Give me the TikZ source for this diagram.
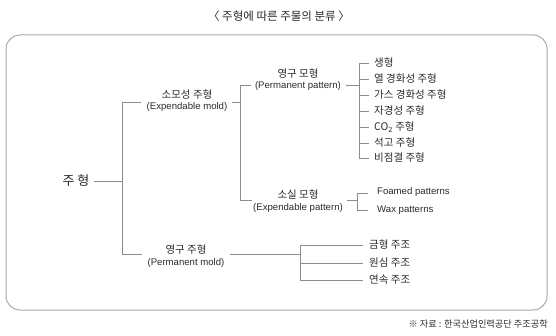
\documentclass[tikz,border=0pt]{standalone}
\usepackage{fontspec}
\setmainfont{Noto Sans CJK KR}
\newfontfamily\lat{Liberation Sans}
\definecolor{lineg}{HTML}{8C8C8C}
\definecolor{txt}{HTML}{2A2A2A}
\definecolor{framec}{HTML}{A8A8A8}
\begin{document}
\begin{tikzpicture}[x=1pt,y=-1pt,
  ln/.style={draw=lineg, line width=0.8pt},
  kr/.style={font=\fontsize{10.5}{12}\selectfont, text=txt, inner sep=0pt},
  en/.style={font=\lat\fontsize{9.6}{11}\selectfont, text=txt, inner sep=0pt},
  leaf/.style={kr, anchor=west},
  leafen/.style={en, anchor=west},
]
\useasboundingbox (0,0) rectangle (556,336);
\draw[framec, line width=1pt, rounded corners=14pt] (6,35) rectangle (547,310);

% title and source
\node[kr, font=\fontsize{11.5}{13}\selectfont] (title) at (279,16) {〈 주형에 따른 주물의 분류 〉};
\node[kr, anchor=east, font=\fontsize{9.2}{11}\selectfont] (src) at (548,324) {※ 자료 : 한국산업인력공단 주조공학};

% root
\node[kr, font=\fontsize{13}{15}\selectfont] (root) at (76,181) {주 형};
\coordinate (r0) at (94,181);
\coordinate (r1) at (122,181);
\coordinate (rt) at (122,102);
\coordinate (rb) at (122,254);
\draw[ln] (r0) -- (r1);
\draw[ln] (rt) -- (rb);

% expendable mold
\node[kr] (em) at (187,95) {소모성 주형};
\node[en] (eme) at (187,107) {(Expendable mold)};
\coordinate (em0) at (141,102);
\coordinate (em1) at (232,102);
\coordinate (em2) at (240,102);
\draw[ln] (rt) -- (em0);
\draw[ln] (em1) -- (em2);
\coordinate (vt) at (240,85);
\coordinate (vb) at (240,200);
\draw[ln] (vt) -- (vb);

% permanent pattern
\node[kr] (pp) at (298,74) {영구 모형};
\node[en] (ppe) at (298,86) {(Permanent pattern)};
\coordinate (pp0) at (251,85);
\coordinate (pp1) at (346,85);
\coordinate (pp2) at (359,85);
\draw[ln] (vt) -- (pp0);
\draw[ln] (pp1) -- (pp2);
\coordinate (lt) at (359,63);
\coordinate (lb) at (359,158);
\draw[ln] (lt) -- (lb);
\foreach \y/\t [count=\i] in {63/생형, 79/열 경화성 주형, 95/가스 경화성 주형, 111/자경성 주형, 127/CO\textsubscript{2} 주형, 143/석고 주형, 158/비점결 주형}{
  \node[leaf] (l\i) at (374,\y) {\t};
  \coordinate (la\i) at (359,\y);
  \coordinate (lc\i) at (369,\y);
  \draw[ln] (la\i) -- (lc\i);
}

% expendable pattern
\node[kr] (ep) at (298,195) {소실 모형};
\node[en] (epe) at (298,208) {(Expendable pattern)};
\coordinate (ep0) at (252,200);
\coordinate (ep1) at (347,200);
\coordinate (ep2) at (357,200);
\draw[ln] (vb) -- (ep0);
\draw[ln] (ep1) -- (ep2);
\coordinate (ft) at (357,193);
\coordinate (fb) at (357,210);
\draw[ln] (ft) -- (fb);
\node[leafen] (fp) at (377,192) {Foamed patterns};
\node[leafen] (wp) at (377,210) {Wax patterns};
\coordinate (fc) at (368,193);
\coordinate (wc) at (368,210);
\draw[ln] (ft) -- (fc);
\draw[ln] (fb) -- (wc);

% permanent mold
\node[kr] (pm) at (186,250) {영구 주형};
\node[en] (pme) at (186,263) {(Permanent mold)};
\coordinate (pm0) at (142,254);
\coordinate (pm1) at (230,254);
\coordinate (pm2) at (300,254);
\draw[ln] (rb) -- (pm0);
\draw[ln] (pm1) -- (pm2);
\coordinate (mt) at (300,245);
\coordinate (mb) at (300,280);
\draw[ln] (mt) -- (mb);
\foreach \y/\t [count=\i] in {245/금형 주조, 263/원심 주조, 280/연속 주조}{
  \node[leaf] (m\i) at (369,\y) {\t};
  \coordinate (ma\i) at (300,\y);
  \coordinate (mc\i) at (363,\y);
  \draw[ln] (ma\i) -- (mc\i);
}
\end{tikzpicture}
\end{document}
